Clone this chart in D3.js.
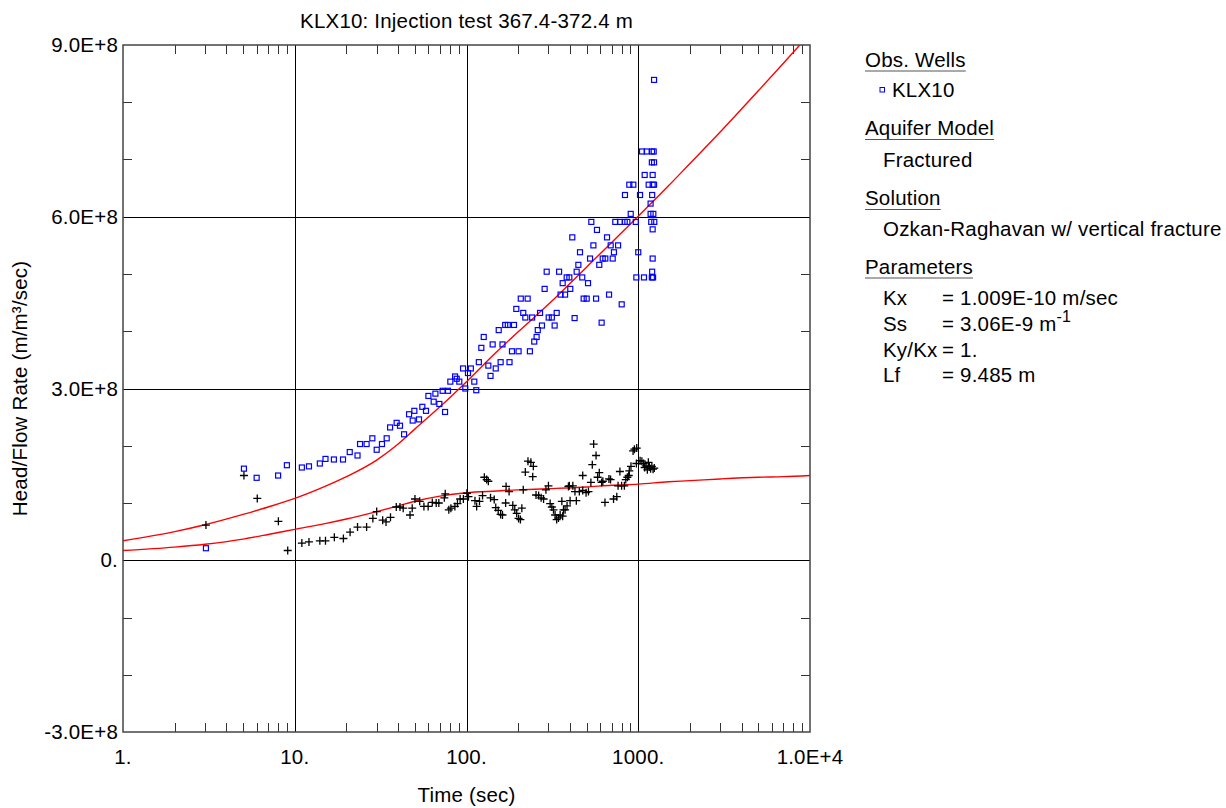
<!DOCTYPE html>
<html>
<head>
<meta charset="utf-8">
<script src="https://cdn.jsdelivr.net/npm/d3@7"></script>
<style>
  body { margin: 0; background: #fff; }
  svg text { font-family: "Liberation Sans", Arial, sans-serif; fill: #000; letter-spacing: 0.2px; }
</style>
</head>
<body>
<svg id="graph"></svg>
<script>
// values in units of 1e8 (m/m3/sec), time in sec
const E8 = 1e8;

const obsTime = [3.04, 5.06, 6.0, 8.0, 9.0, 11.0, 12.1, 14.0, 15.1, 16.9, 19.1, 20.9, 23.2, 24.0, 26.2, 28.3, 30.0, 32.2, 34.3, 35.9,
  39.2, 41.0, 43.3, 46.3, 48.6, 49.7, 52.9, 55.3, 58.1, 60.0, 64.4, 65.9, 69.5, 72.6, 75.0, 78.0, 80.5, 85.8, 87.7, 90.8,
  95.5, 98.4, 102, 106, 111, 114, 118, 122, 126, 134, 138, 142, 148, 154, 158, 162, 168, 174, 178, 184,
  189, 195, 201, 207, 214, 220, 227, 234, 241, 248, 256, 260, 268, 275, 285, 293, 301, 314, 326, 335,
  346, 353, 363, 375, 383, 397, 402, 413, 426, 438, 448, 458, 472, 481, 501, 510, 524, 533, 548, 568,
  575, 593, 612, 621, 643, 658, 676, 691, 710, 722, 735, 763, 783, 801, 834, 837, 864, 887, 904, 936,
  967, 975, 1000, 1024, 1052, 1080, 1090, 1120, 1150, 1180, 1180, 1190, 1200, 1205, 1205, 1213, 1213, 1213, 1203, 1200,
  1224, 1230, 1236, 1236, 1236, 1240, 1213, 1220];
const obsHead = [0.21, 1.60, 1.44, 1.48, 1.66, 1.62, 1.64, 1.69, 1.77, 1.76, 1.76, 1.89, 1.83, 2.03, 2.03, 2.13, 1.93, 2.03, 2.13, 2.32,
  2.40, 2.35, 2.20, 2.55, 2.44, 2.61, 2.46, 2.68, 2.61, 2.87, 2.77, 2.91, 2.73, 2.96, 2.59, 2.96, 3.12, 3.21, 3.17, 3.12,
  3.35, 3.00, 3.27, 3.35, 3.12, 2.97, 3.46, 3.71, 3.90, 3.40, 3.22, 3.77, 3.35, 4.02, 3.46, 3.77, 4.11, 4.11, 3.46, 3.65,
  4.11, 4.39, 3.65, 4.57, 4.32, 4.24, 4.57, 3.65, 4.24, 3.82, 3.90, 4.02, 4.32, 4.10, 4.74, 5.04, 4.24, 4.24, 4.10, 4.32,
  5.04, 4.64, 4.84, 4.64, 4.94, 4.94, 4.74, 5.64, 4.23, 5.04, 5.16, 5.38, 4.94, 4.57, 4.57, 4.84, 5.27, 5.91, 5.50, 4.57,
  5.77, 5.16, 4.15, 5.27, 5.27, 5.64, 4.64, 5.50, 5.27, 5.38, 5.91, 5.50, 5.91, 4.47, 5.91, 6.38, 5.91, 6.56, 6.05, 6.56,
  5.91, 4.94, 5.38, 6.38, 7.14, 4.94, 6.73, 7.14, 6.56, 6.23, 6.05, 5.91, 4.94, 6.38, 5.04, 6.73, 5.27, 5.78, 7.14, 6.95,
  6.05, 7.14, 8.39, 6.56, 6.95, 5.91, 6.56, 4.94];

const derivTime = [3.04, 5.06, 6.05, 8.03, 9.1, 11.0, 12.1, 14.0, 15.1, 17.0, 19.2, 21.0, 23.2, 26.2, 28.5, 30.0, 32.5, 34.0, 36.1,
  39.0, 41.0, 42.8, 46.9, 48.3, 50.1, 53.4, 56.5, 59.8, 63.2, 66.6, 69.0, 74.3, 75.2, 78.9, 81.1, 85.6, 88.6, 91.8, 95.9,
  100.5, 102.7, 112, 114.6, 119, 124, 127, 131, 134, 138, 145, 148, 153, 158, 162, 169, 170, 177, 186, 191,
  196, 201, 206, 210, 214, 220, 228, 237, 243, 245, 254, 263, 272, 281, 290, 300, 307, 314, 321, 328,
  335, 343, 351, 359, 363, 367, 375, 385, 392, 397, 401, 416, 428, 436, 454, 475, 475, 497, 513, 530,
  540, 550, 568, 580, 593, 612, 622, 640, 675, 690, 718, 750, 763, 782, 800, 830, 846, 864, 880, 887,
  907, 933, 950, 975, 980, 1025, 1050, 1075, 1090, 1110, 1130, 1145, 1160, 1180, 1200, 1220, 1240];
const derivHead = [0.615, 1.48, 1.08, 0.68, 0.17, 0.30, 0.32, 0.34, 0.34, 0.40, 0.38, 0.49, 0.58, 0.58, 0.73, 0.85, 0.70, 0.67, 0.75,
  0.93, 0.93, 0.91, 0.79, 0.91, 1.07, 1.03, 0.94, 0.94, 1.01, 1.00, 1.00, 1.09, 1.16, 0.88, 0.91, 0.94, 0.99, 1.07, 1.07,
  1.17, 1.11, 1.04, 0.94, 1.03, 1.13, 1.45, 1.41, 1.38, 1.09, 1.06, 0.92, 0.87, 0.80, 0.79, 1.00, 1.29, 1.20, 0.96, 0.88,
  0.82, 0.73, 0.71, 0.91, 1.23, 1.54, 1.73, 1.71, 1.46, 1.64, 1.14, 1.13, 1.09, 1.07, 1.23, 1.30, 0.99, 0.93, 0.88, 0.79,
  0.71, 0.74, 0.79, 1.03, 0.77, 0.88, 0.88, 0.95, 1.29, 1.30, 1.04, 1.30, 1.20, 1.04, 1.20, 1.22, 1.48, 1.18, 1.20, 1.36,
  1.67, 2.03, 1.83, 1.45, 1.53, 1.36, 1.38, 1.01, 1.42, 1.41, 1.07, 1.11, 1.30, 1.55, 1.30, 1.30, 1.41, 1.45, 1.48, 1.56,
  1.64, 1.91, 1.94, 1.69, 1.96, 1.74, 1.73, 1.69, 1.62, 1.65, 1.58, 1.71, 1.63, 1.60, 1.64, 1.59, 1.61];

const fitTime = [1, 2, 3, 5, 7, 10, 15, 20, 30, 40, 50, 70, 100, 150, 200, 300, 500, 700, 1000, 1500, 2000, 3000, 5000, 7000, 10000];
const fitHead = [0.34, 0.50, 0.62, 0.80, 0.93, 1.08, 1.29, 1.46, 1.75, 2.03, 2.29, 2.68, 3.12, 3.64, 3.99, 4.47, 5.12, 5.55, 6.01, 6.54, 6.93, 7.48, 8.20, 8.68, 9.20];
const fitDeriv = [0.17, 0.23, 0.28, 0.37, 0.45, 0.54, 0.64, 0.72, 0.85, 0.95, 1.03, 1.12, 1.18, 1.21, 1.23, 1.25, 1.28, 1.31, 1.33, 1.37, 1.39, 1.42, 1.45, 1.46, 1.48];

const xTicks = [1, 10, 100, 1000, 10000];
const xTickLabels = ["1.", "10.", "100.", "1000.", "1.0E+4"];
const yTicks = [-3, 0, 3, 6, 9];
const yTickLabels = ["-3.0E+8", "0.", "3.0E+8", "6.0E+8", "9.0E+8"];

const paramNames = ["Kx", "Ss", "Ky/Kx", "Lf"];
const paramValues = ["= 1.009E-10 m/sec", "= 3.06E-9 m", "= 1.", "= 9.485 m"];

const W = 1226, H = 808;
const m = { left: 123, top: 45, right: 810, bottom: 732 };
const FS = 20.5;

const svg = d3.select('#graph').attr('width', W).attr('height', H);

const x = d3.scaleLog().domain([1, 10000]).range([m.left, m.right]);
const y = d3.scaleLinear().domain([-3 * E8, 9 * E8]).range([m.bottom, m.top]);

svg.append('defs').append('clipPath').attr('id', 'clip')
  .append('rect').attr('x', m.left).attr('y', m.top)
  .attr('width', m.right - m.left).attr('height', m.bottom - m.top);

// grid
const minorX = [];
for (let d = 1; d < 10000; d *= 10) for (let k = 2; k <= 9; k++) minorX.push(d * k);
const minorY = d3.range(-3, 10).filter(v => v % 3 !== 0);

svg.selectAll('.gx').data(xTicks.slice(1, -1)).enter().append('line')
  .attr('x1', d => Math.round(x(d)) + 0.5).attr('x2', d => Math.round(x(d)) + 0.5)
  .attr('y1', m.top).attr('y2', m.bottom).attr('stroke', '#000').attr('stroke-width', 1);
svg.selectAll('.gy').data(yTicks.slice(1, -1)).enter().append('line')
  .attr('y1', d => Math.round(y(d * E8)) + 0.5).attr('y2', d => Math.round(y(d * E8)) + 0.5)
  .attr('x1', m.left).attr('x2', m.right).attr('stroke', '#000').attr('stroke-width', 1);

// minor ticks (inward, all four sides)
[m.top, m.bottom].forEach((yy, i) => {
  svg.selectAll('.mx' + i).data(minorX).enter().append('line')
    .attr('x1', d => Math.round(x(d)) + 0.5).attr('x2', d => Math.round(x(d)) + 0.5)
    .attr('y1', yy).attr('y2', i === 0 ? yy + 9 : yy - 9)
    .attr('stroke', '#333').attr('stroke-width', 1);
});
[m.left, m.right].forEach((xx, i) => {
  svg.selectAll('.my' + i).data(minorY).enter().append('line')
    .attr('y1', d => Math.round(y(d * E8)) + 0.5).attr('y2', d => Math.round(y(d * E8)) + 0.5)
    .attr('x1', xx).attr('x2', i === 0 ? xx + 9 : xx - 9)
    .attr('stroke', '#333').attr('stroke-width', 1);
});

svg.append('rect').attr('x', m.left).attr('y', m.top)
  .attr('width', m.right - m.left).attr('height', m.bottom - m.top)
  .attr('fill', 'none').attr('stroke', '#444').attr('stroke-width', 1.5);

// tick labels
svg.selectAll('.xl').data(xTicks).enter().append('text')
  .attr('x', d => x(d)).attr('y', m.bottom + 32)
  .attr('text-anchor', 'middle').attr('font-size', FS)
  .text((d, i) => xTickLabels[i]);
svg.selectAll('.yl').data(yTicks).enter().append('text')
  .attr('x', m.left - 5).attr('y', d => y(d * E8) + 7)
  .attr('text-anchor', 'end').attr('font-size', FS)
  .text((d, i) => yTickLabels[i]);

// titles
svg.append('text').attr('x', (m.left + m.right) / 2).attr('y', 28)
  .attr('text-anchor', 'middle').attr('font-size', FS)
  .text('KLX10: Injection test 367.4-372.4 m');
svg.append('text').attr('x', (m.left + m.right) / 2).attr('y', 802)
  .attr('text-anchor', 'middle').attr('font-size', FS)
  .text('Time (sec)');
svg.append('text')
  .attr('transform', `translate(27,${(m.top + m.bottom) / 2}) rotate(-90)`)
  .attr('text-anchor', 'middle').attr('font-size', FS)
  .text('Head/Flow Rate (m/m³/sec)');

// model curves
const plot = svg.append('g').attr('clip-path', 'url(#clip)');
const line = d3.line().curve(d3.curveMonotoneX);
[fitHead, fitDeriv].forEach(vals => {
  plot.append('path')
    .attr('d', line(fitTime.map((t, i) => [x(t), y(vals[i] * E8)])))
    .attr('fill', 'none').attr('stroke', '#ff0000').attr('stroke-width', 1.4);
});

// observed data
plot.selectAll('.obs').data(obsTime).enter().append('rect')
  .attr('x', (d, i) => x(d) - 2.5).attr('y', (d, i) => y(obsHead[i] * E8) - 2.5)
  .attr('width', 5).attr('height', 5)
  .attr('fill', 'none').attr('stroke', '#0000ff').attr('stroke-width', 1.2);

plot.selectAll('.der').data(derivTime).enter().append('path')
  .attr('d', (d, i) => {
    const cx = x(d), cy = y(derivHead[i] * E8);
    return `M${cx - 4},${cy}H${cx + 4}M${cx},${cy - 4}V${cy + 4}`;
  })
  .attr('stroke', '#000').attr('stroke-width', 1.3);

// legend
const lg = svg.append('g').attr('font-size', FS);
const heads = [
  { t: 'Obs. Wells', y: 66.5 },
  { t: 'Aquifer Model', y: 135 },
  { t: 'Solution', y: 205 },
  { t: 'Parameters', y: 273.5 }
];
heads.forEach(h => {
  const tx = lg.append('text').attr('x', 865).attr('y', h.y).text(h.t);
  const w = tx.node().getComputedTextLength();
  lg.append('line').attr('x1', 865).attr('x2', 865 + w)
    .attr('y1', h.y + 4.5).attr('y2', h.y + 4.5).attr('stroke', '#555').attr('stroke-width', 1.2);
});
lg.append('rect').attr('x', 880).attr('y', 87.5).attr('width', 4.5).attr('height', 4.5)
  .attr('fill', 'none').attr('stroke', '#0000ff').attr('stroke-width', 1);
lg.append('text').attr('x', 892).attr('y', 96.5).text('KLX10');
lg.append('text').attr('x', 883).attr('y', 166.5).text('Fractured');
lg.append('text').attr('x', 883).attr('y', 236).text('Ozkan-Raghavan w/ vertical fracture');

const pY = [305, 330.5, 356.5, 381.5];
paramNames.forEach((n, i) => {
  lg.append('text').attr('x', 883).attr('y', pY[i]).text(n);
  const t = lg.append('text').attr('x', 942).attr('y', pY[i]).text(paramValues[i]);
  if (n === 'Ss') {
    t.append('tspan').attr('dy', -9).attr('font-size', 16).text('-1');
  }
});
</script>
</body>
</html>
